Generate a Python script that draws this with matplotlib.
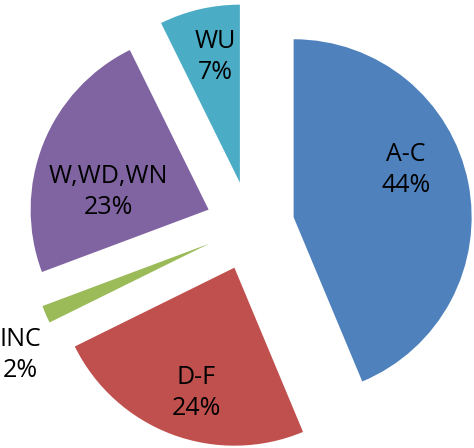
import matplotlib.pyplot as plt

# data
labels = ['A-C', 'D-F', 'INC', 'W,WD,WN', 'WU']
values = [43.7, 24.0, 1.6, 23.4, 7.3]
colors = ['#4F81BD', '#C0504D', '#9BBB59', '#8064A2', '#4BACC6']

# layout (pixel space, y up)
W, H = 474, 448
center = (250, 222)
radius = 178
explode = 0.25 * radius
label_pos = [(406, 278), (196, 55), (20, 93), (108, 256), (215, 391)]

fig = plt.figure(figsize=(W / 100, H / 100), dpi=100)
ax = fig.add_axes([0, 0, 1, 1])

ax.pie(values, colors=colors, startangle=90, counterclock=False,
       explode=[explode] * len(values), center=center, radius=radius,
       wedgeprops=dict(linewidth=0))
ax.set_xlim(0, W)
ax.set_ylim(0, H)
ax.set_aspect('auto')
ax.axis('off')

total = sum(values)
for lab, v, (x, y) in zip(labels, values, label_pos):
    ax.text(x, y, f'{lab}\n{round(100 * v / total)}%', ha='center', va='center',
            fontsize=18, family='Open Sans', linespacing=1.3)

fig.savefig('out.png', dpi=100)
